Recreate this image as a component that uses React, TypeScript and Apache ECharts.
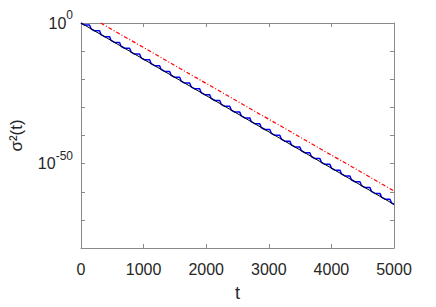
import React, { useEffect, useRef } from "react";
import * as echarts from "echarts";

// t range and tick labels
const xTicks = [0, 1000, 2000, 3000, 4000, 5000];
// y axis is in decades: log10(sigma^2)
const yMin = -80;
const yMax = 0;
const yLabelExponents = [0, -50];

// black reference line: [t, log10(sigma^2)]
const blackLine: [number, number][] = [
  [0, 0],
  [5000, -64.5],
];

// red dash-dot line: [t, log10(sigma^2)]
const redLine: [number, number][] = [
  [314, 0],
  [5000, -59.7],
];

// blue stepped curve: [t, log10(sigma^2)]
const blueLine: [number, number][] = [
  [0, 0], [56, -0.72], [136, -0.72],
  [160, -2.06], [216, -2.78], [296, -2.78],
  [320, -4.13], [376, -4.85], [456, -4.85],
  [480, -6.19], [536, -6.91], [616, -6.91],
  [640, -8.26], [696, -8.98], [776, -8.98],
  [800, -10.32], [856, -11.04], [936, -11.04],
  [960, -12.38], [1016, -13.1], [1096, -13.1],
  [1120, -14.45], [1176, -15.17], [1256, -15.17],
  [1280, -16.51], [1336, -17.23], [1416, -17.23],
  [1440, -18.58], [1496, -19.3], [1576, -19.3],
  [1600, -20.64], [1656, -21.36], [1736, -21.36],
  [1760, -22.7], [1816, -23.42], [1896, -23.42],
  [1920, -24.77], [1976, -25.49], [2056, -25.49],
  [2080, -26.83], [2136, -27.55], [2216, -27.55],
  [2240, -28.9], [2296, -29.62], [2376, -29.62],
  [2400, -30.96], [2456, -31.68], [2536, -31.68],
  [2560, -33.02], [2616, -33.74], [2696, -33.74],
  [2720, -35.09], [2776, -35.81], [2856, -35.81],
  [2880, -37.15], [2936, -37.87], [3016, -37.87],
  [3040, -39.22], [3096, -39.94], [3176, -39.94],
  [3200, -41.28], [3256, -42.0], [3336, -42.0],
  [3360, -43.34], [3416, -44.06], [3496, -44.06],
  [3520, -45.41], [3576, -46.13], [3656, -46.13],
  [3680, -47.47], [3736, -48.19], [3816, -48.19],
  [3840, -49.54], [3896, -50.26], [3976, -50.26],
  [4000, -51.6], [4056, -52.32], [4136, -52.32],
  [4160, -53.66], [4216, -54.38], [4296, -54.38],
  [4320, -55.73], [4376, -56.45], [4456, -56.45],
  [4480, -57.79], [4536, -58.51], [4616, -58.51],
  [4640, -59.86], [4696, -60.58], [4776, -60.58],
  [4800, -61.92], [4856, -62.64], [4936, -62.64],
  [4960, -63.98], [5000, -64.5],
];

const AXIS = "#8a8a8a";
const TEXT = "#262626";
const FONT = "'Liberation Sans', Arial, sans-serif";

export default function App() {
  const ref = useRef<HTMLDivElement>(null);
  useEffect(() => {
    if (!ref.current) return;
    const chart = echarts.init(ref.current, undefined, { renderer: "svg" });
    const yFormatter = (v: number) => {
      const e = Math.round(v);
      return yLabelExponents.includes(e) ? `{b|10}{s|${e}}` : "";
    };
    const yBase = {
      type: "value",
      min: yMin,
      max: yMax,
      interval: 10,
      axisLine: { show: true, onZero: false, lineStyle: { color: AXIS, width: 1 } },
      axisTick: { show: true, inside: true, length: 4, lineStyle: { color: AXIS } },
      splitLine: { show: false },
    };
    const xBase = {
      type: "value",
      min: xTicks[0],
      max: xTicks[xTicks.length - 1],
      interval: 1000,
      axisLine: { show: true, onZero: false, lineStyle: { color: AXIS, width: 1 } },
      axisTick: { show: true, inside: true, length: 4, lineStyle: { color: AXIS } },
      splitLine: { show: false },
    };
    chart.setOption({
      animation: false,
      backgroundColor: "#ffffff",
      grid: { left: 80, right: 42, top: 23, bottom: 53, containLabel: false },
      xAxis: [
        {
          ...xBase,
          position: "bottom",
          name: "t",
          nameLocation: "middle",
          nameGap: 36,
          nameMoveOverlap: false,
          nameTextStyle: { fontFamily: FONT, fontSize: 18, color: TEXT },
          axisLabel: {
            fontFamily: FONT,
            fontSize: 16,
            color: TEXT,
            margin: 13,
            formatter: (v: number) => String(v),
          },
        },
        { ...xBase, position: "top", axisLabel: { show: false } },
      ],
      yAxis: [
        {
          ...yBase,
          position: "left",
          name: "σ²(t)",
          nameLocation: "middle",
          nameGap: 56,
          nameMoveOverlap: false,
          nameTextStyle: { fontFamily: FONT, fontSize: 17, color: TEXT },
          axisLabel: {
            formatter: yFormatter,
            margin: 8,
            rich: {
              b: { fontFamily: FONT, fontSize: 16, color: TEXT },
              s: { fontFamily: FONT, fontSize: 12, color: TEXT, padding: [0, 0, 16, 0] },
            },
          },
        },
        { ...yBase, position: "right", axisLabel: { show: false } },
      ],
      series: [
        {
          type: "line",
          data: blueLine,
          showSymbol: false,
          symbol: "none",
          lineStyle: { color: "#0000ff", width: 1.5 },
          z: 2,
        },
        {
          type: "line",
          data: blackLine,
          showSymbol: false,
          symbol: "none",
          lineStyle: { color: "#000000", width: 1 },
          z: 3,
        },
        {
          type: "line",
          data: redLine,
          showSymbol: false,
          symbol: "none",
          lineStyle: { color: "#ff0000", width: 1.2, type: [4, 2, 1, 2] },
          z: 3,
        },
      ],
    });
    return () => chart.dispose();
  }, []);
  return <div ref={ref} style={{ width: 436, height: 307, margin: -8 }} />;
}
